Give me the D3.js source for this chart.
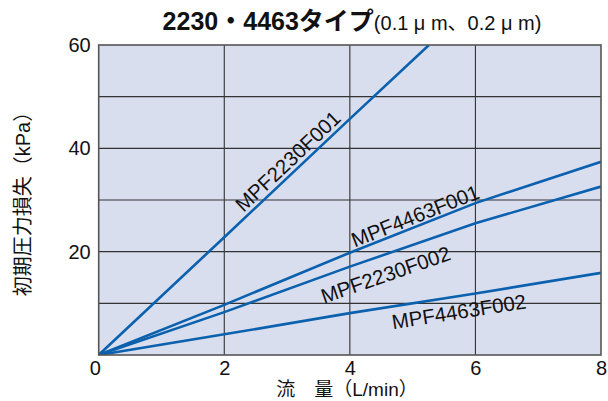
<!DOCTYPE html>
<html><head><meta charset="utf-8">
<script src="https://cdn.jsdelivr.net/npm/d3@7"></script>
<style>
body{margin:0;background:#fff;}
text{font-family:"Liberation Sans",Arial,"Noto Sans CJK JP",sans-serif;fill:#111;}
.jp{font-family:"Liberation Sans","Noto Sans CJK JP",sans-serif;}
</style></head><body>
<svg id="c" width="608" height="401"></svg>
<script>
// ---- data ----
const flow = [0, 2, 4, 6, 8];                       // L/min
const flow2230f001 = [0, 2, 4, 5.26];
const mpf2230f001 = [0, 22.8, 45.7, 60];
const mpf4463f001 = [0, 9.7, 19.8, 29.4, 37.4];
const mpf2230f002 = [0, 8.3, 17.1, 25.5, 32.6];
const mpf4463f002 = [0, 4.0, 8.1, 11.9, 15.9];
const seriesNames = ["MPF2230F001", "MPF4463F001", "MPF2230F002", "MPF4463F002"];
const xTicks = [0, 2, 4, 6, 8];
const yTicks = [20, 40, 60];
const yGrid = [10, 20, 30, 40, 50];
const xGrid = [2, 4, 6];
const titleMain = "2230・4463タイプ";
const titleSub = "(0.1 μ m、0.2 μ m)";
const xTitle = "流　量（L/min）";
const yTitle = "初期圧力損失（kPa）";
// label placement: data x along line, baseline offset (px, perpendicular)
const labelX = [3.14, 5.1, 4.47, 5.70];
const labelOff = [-4.5, -3, 26.5, 22.5];

const series = [
  flow2230f001.map((x,i)=>[x, mpf2230f001[i]]),
  flow.map((x,i)=>[x, mpf4463f001[i]]),
  flow.map((x,i)=>[x, mpf2230f002[i]]),
  flow.map((x,i)=>[x, mpf4463f002[i]])
];

const L=98.7, R=601, T=45, B=355;
const svg = d3.select("#c");
const x = d3.scaleLinear().domain([0,8]).range([L,R]);
const y = d3.scaleLinear().domain([0,60]).range([B,T]);

svg.append("rect").attr("x",L).attr("y",T).attr("width",R-L).attr("height",B-T)
  .attr("fill","#d9deef");

const g = svg.append("g");
g.selectAll(".vg").data(xGrid).join("line")
  .attr("x1",d=>x(d)).attr("x2",d=>x(d)).attr("y1",T).attr("y2",B)
  .attr("stroke","#333").attr("stroke-width",1.1);
g.selectAll(".hg").data(yGrid).join("line")
  .attr("y1",d=>y(d)).attr("y2",d=>y(d)).attr("x1",L).attr("x2",R)
  .attr("stroke","#333").attr("stroke-width",1.1);

svg.append("clipPath").attr("id","pc").append("rect")
  .attr("x",L).attr("y",T).attr("width",R-L).attr("height",B-T);

const line = d3.line().x(d=>x(d[0])).y(d=>y(d[1]));
svg.append("g").attr("clip-path","url(#pc)").selectAll("path").data(series).join("path")
  .attr("d",line).attr("fill","none").attr("stroke","#0b61ae").attr("stroke-width",2.6);

svg.append("rect").attr("x",L).attr("y",T).attr("width",R-L).attr("height",B-T)
  .attr("fill","none").attr("stroke","#555").attr("stroke-width",1.6);

// axes (tick labels only)
const xa = svg.append("g").attr("transform",`translate(0,${B})`)
  .call(d3.axisBottom(x).tickValues(xTicks).tickSize(0).tickPadding(6).tickFormat(d3.format("d")));
const ya = svg.append("g").attr("transform",`translate(${L},0)`)
  .call(d3.axisLeft(y).tickValues(yTicks).tickSize(0).tickPadding(8).tickFormat(d3.format("d")));
[xa,ya].forEach(a=>{a.select(".domain").remove();
  a.selectAll("text").attr("font-size",20).attr("fill","#111")
   .attr("font-family","Liberation Sans, Arial, sans-serif");});
xa.selectAll(".tick").filter(d=>d===0).select("text").attr("dx",-4);

// line labels
series.forEach((s,i)=>{
  const lx = labelX[i];
  const xs = s.map(d=>d[0]), ys = s.map(d=>d[1]);
  let k = d3.bisectRight(xs, lx) - 1; k = Math.max(0, Math.min(k, xs.length-2));
  const t = (lx - xs[k])/(xs[k+1]-xs[k]);
  const ly = ys[k] + t*(ys[k+1]-ys[k]);
  const px = x(lx), py = y(ly);
  const ang = Math.atan2(y(ys[k+1])-y(ys[k]), x(xs[k+1])-x(xs[k]))*180/Math.PI;
  svg.append("text").attr("transform",`translate(${px},${py}) rotate(${ang})`)
    .attr("y",labelOff[i]).attr("text-anchor","middle").attr("font-size",20.5)
    .text(seriesNames[i]);
});

// title
const tt = svg.append("text").attr("x",352).attr("y",30).attr("text-anchor","middle").attr("class","jp");
tt.append("tspan").attr("font-size",25).attr("font-weight","bold").text(titleMain);
tt.append("tspan").attr("font-size",20).text(titleSub);

svg.append("text").attr("class","jp").attr("x",347).attr("y",396).attr("text-anchor","middle")
  .attr("font-size",19).text(xTitle);
svg.append("text").attr("class","jp").attr("transform","translate(30,199) rotate(-90)")
  .attr("text-anchor","middle").attr("font-size",20).text(yTitle);
</script></body></html>
